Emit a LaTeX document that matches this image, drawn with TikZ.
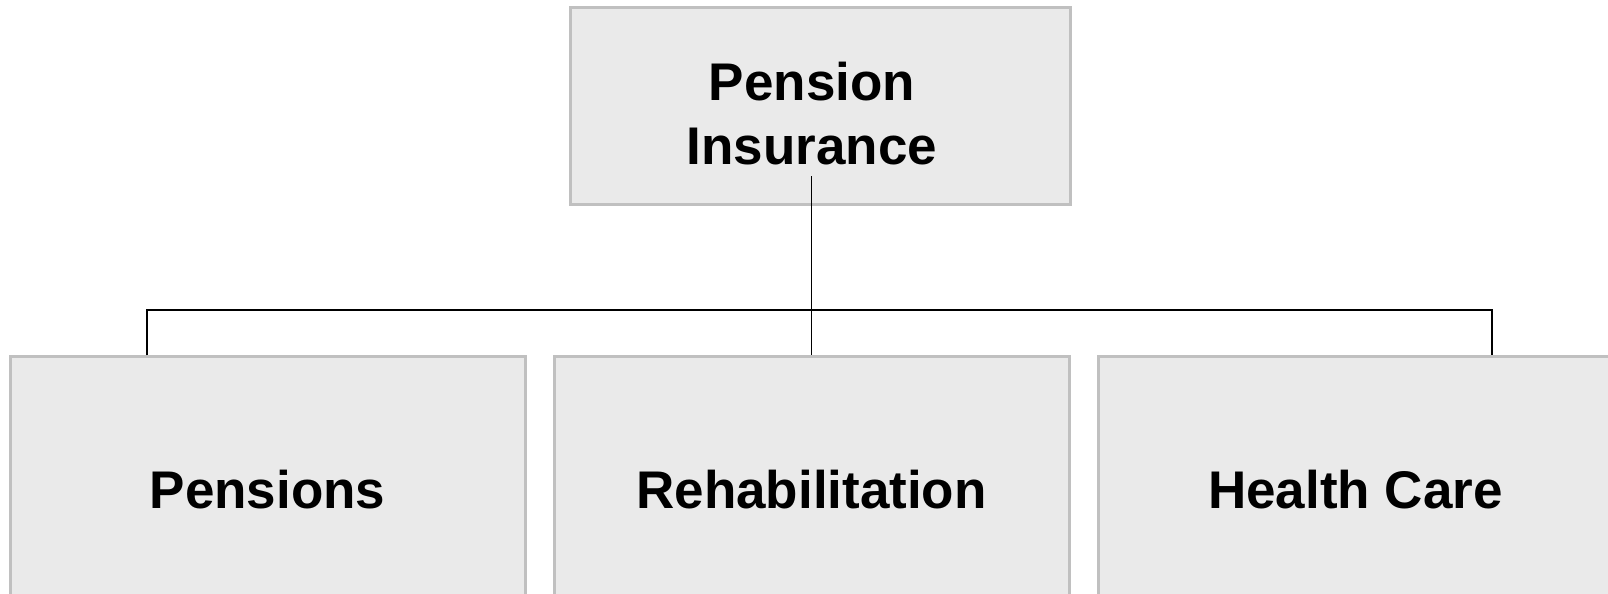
\documentclass[tikz,border=0pt]{standalone}
\usepackage{fontspec}
\setmainfont{Liberation Sans}
\usetikzlibrary{positioning}

\definecolor{boxfill}{HTML}{EAEAEA}
\definecolor{boxline}{HTML}{C0C0C0}

\begin{document}
\begin{tikzpicture}[
  x=0.5pt,y=0.5pt,
  caixa/.style={draw=boxline,fill=boxfill,line width=1.5pt,align=center,inner sep=0pt,
    font=\fontsize{26.5}{31.8}\selectfont\bfseries},
  rotulo/.style={align=center,inner sep=0pt,font=\fontsize{26.5}{31.8}\selectfont\bfseries},
  filho/.style={caixa,minimum width=257.5pt,minimum height=133pt},
  ligacao/.style={draw=black,line width=0.75pt},
  node distance=13pt
]
\useasboundingbox (0,0) rectangle (1608,594);
\node[caixa,minimum width=250pt,minimum height=98.5pt] (pi) at (820,487.5) {};
\node[rotulo] (pitxt) at (812,480.5) {Pension\\Insurance};
\coordinate[below=5.5pt of pitxt] (pibase);
\node[filho] (pens) at (267.5,104) {Pensions};
\node[filho,right=of pens] (rehab) {Rehabilitation};
\node[filho,right=of rehab] (hc) {Health Care};
\coordinate (barL) at (147,284);
\coordinate (barR) at (1492,284);
\draw[ligacao] (pibase -| rehab.north) -- (rehab.north);
\draw[ligacao] (pens.north -| barL) -- (barL) -- (barR) -- (hc.north -| barR);
\end{tikzpicture}
\end{document}
